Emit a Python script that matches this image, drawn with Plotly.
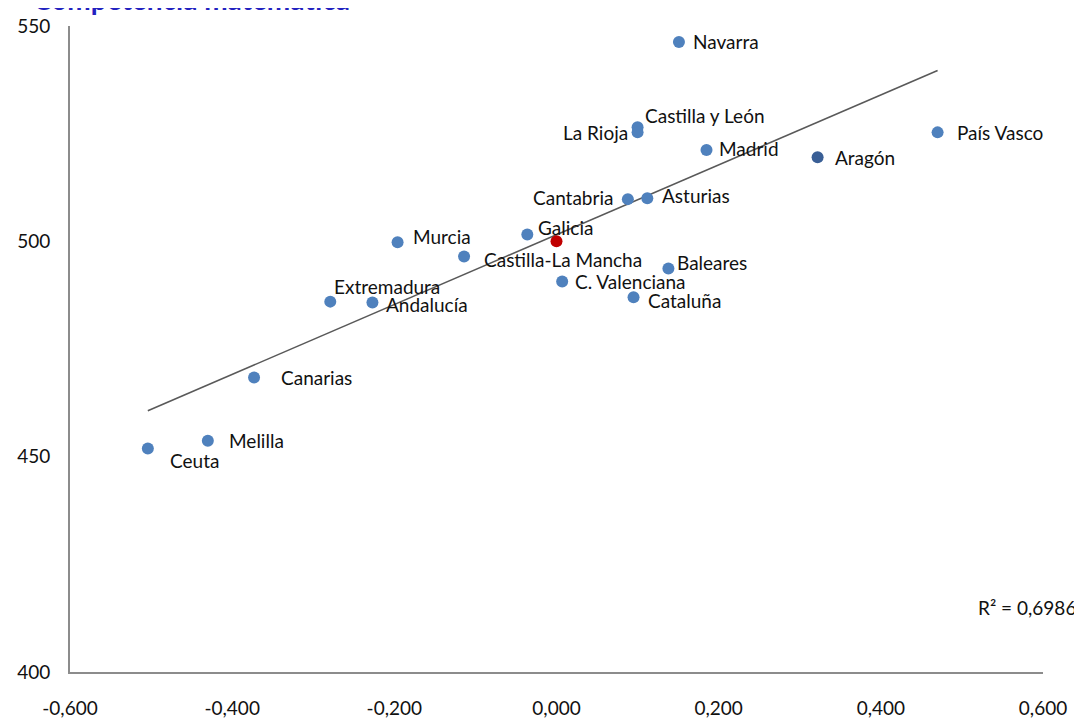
import numpy as np
import plotly.graph_objects as go

# ---- data ----
regions = ["Navarra", "Castilla y León", "La Rioja", "Madrid", "Aragón", "País Vasco",
           "Cantabria", "Asturias", "Galicia", "Murcia", "Castilla-La Mancha", "Baleares",
           "C. Valenciana", "Cataluña", "Extremadura", "Andalucía", "Canarias",
           "Melilla", "Ceuta"]
index_x = [0.151, 0.100, 0.100, 0.185, 0.322, 0.470,
           0.088, 0.112, -0.036, -0.196, -0.114, 0.138,
           0.007, 0.095, -0.279, -0.227, -0.373,
           -0.430, -0.504]
score_y = [546.3, 526.5, 525.3, 521.2, 519.5, 525.3,
           509.8, 510.0, 501.6, 499.8, 496.5, 493.7,
           490.7, 487.0, 486.0, 485.8, 468.4,
           453.7, 451.9]
spain_x = [0.0]
spain_y = [500.0]
r2_text = "R² = 0,6986"
title_text = "Competencia matemática"
x_ticks = [-0.6, -0.4, -0.2, 0.0, 0.2, 0.4, 0.6]
x_ticktext = ["-0,600", "-0,400", "-0,200", "0,000", "0,200", "0,400", "0,600"]
y_ticks = [400, 450, 500, 550]

# ---- label placement (pixel offsets) ----
label_style = {
    "Navarra": ("left", 12, 0),
    "Castilla y León": ("left", 5, 12),
    "La Rioja": ("right", -8, 0),
    "Madrid": ("left", 10, 2),
    "Aragón": ("left", 15, 0),
    "País Vasco": ("left", 17, 0),
    "Cantabria": ("right", -13, 2),
    "Asturias": ("left", 13, 3),
    "Galicia": ("left", 9, 7),
    "Murcia": ("left", 13, 6),
    "Castilla-La Mancha": ("left", 18, -3),
    "Baleares": ("left", 7, 6),
    "C. Valenciana": ("left", 11, 0),
    "Cataluña": ("left", 12, -3),
    "Extremadura": ("left", 2, 15),
    "Andalucía": ("left", 12, -2),
    "Canarias": ("left", 25, 0),
    "Melilla": ("left", 19, 0),
    "Ceuta": ("left", 20, -12),
}

FONT = "Lato"
FS = 19
TXT = "#111111"
BLUE = "#4F81BD"
DARK = "#3A5F96"
RED = "#C00000"

colors = [DARK if r == "Aragón" else BLUE for r in regions]

fig = go.Figure()

# trend line from least squares fit over all points
all_x = np.array(index_x + spain_x)
all_y = np.array(score_y + spain_y)
slope, intercept = np.polyfit(all_x, all_y, 1)
xl = np.array([all_x.min(), all_x.max()])
fig.add_trace(go.Scatter(x=xl, y=slope * xl + intercept, mode="lines",
                         line=dict(color="#595959", width=1.6), hoverinfo="skip",
                         showlegend=False))

fig.add_trace(go.Scatter(x=index_x, y=score_y, mode="markers", text=regions,
                         marker=dict(size=12, color=colors), showlegend=False))
fig.add_trace(go.Scatter(x=spain_x, y=spain_y, mode="markers",
                         marker=dict(size=12, color=RED), showlegend=False))

for r, x, y in zip(regions, index_x, score_y):
    anchor, dx, dy = label_style[r]
    fig.add_annotation(x=x, y=y, text=r, showarrow=False, xanchor=anchor,
                       yanchor="middle", xshift=dx, yshift=dy,
                       font=dict(family=FONT, size=FS, color=TXT))

fig.add_annotation(xref="paper", yref="paper", x=1.0, y=0.1006, text=r2_text,
                   showarrow=False, xanchor="right", yanchor="middle", xshift=35,
                   font=dict(family=FONT, size=FS, color=TXT))

fig.add_annotation(xref="paper", yref="paper", x=0.0, y=1.0, text="<b>" + title_text + "</b>",
                   showarrow=False, xanchor="left", yanchor="bottom", xshift=-39, yshift=8,
                   font=dict(family=FONT, size=28, color="#2222C0"))

axis_common = dict(showgrid=False, zeroline=False, showline=True, linecolor="#8C8C8C",
                   linewidth=2, ticks="", automargin=False,
                   tickfont=dict(family=FONT, size=FS, color=TXT))

fig.update_xaxes(range=[-0.6, 0.6], tickvals=x_ticks, ticktext=x_ticktext,
                 ticklabelstandoff=18, **axis_common)
fig.update_yaxes(range=[400, 550], tickvals=y_ticks, tickformat="d",
                 ticklabelstandoff=14, **axis_common)

# page body has an 8px margin, so the figure is sized and offset to land on the reference grid
fig.update_layout(width=1074, height=712, separators=",.",
                  margin=dict(l=62, r=39, t=18, b=48, autoexpand=False),
                  plot_bgcolor="white", paper_bgcolor="white",
                  font=dict(family=FONT))

fig.write_html("out.html")
